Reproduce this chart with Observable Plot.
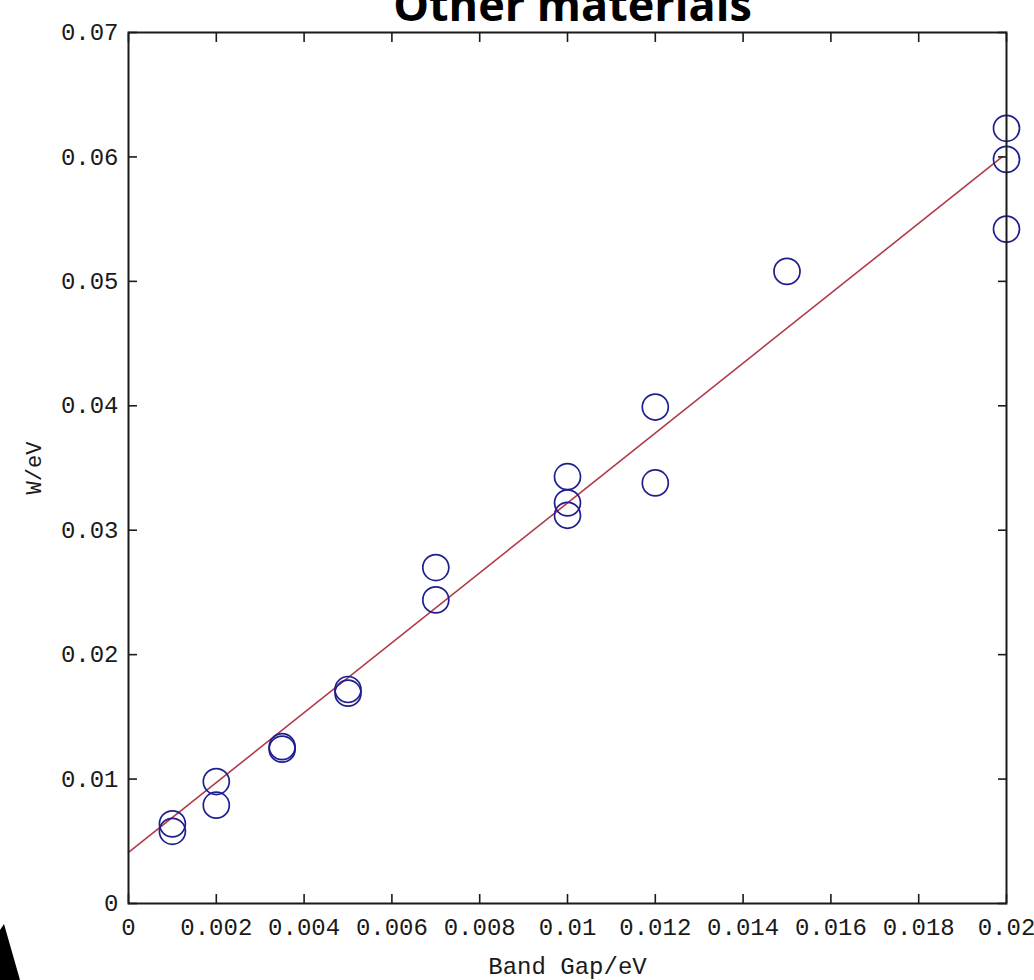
<!DOCTYPE html>
<html>
<head>
<meta charset="utf-8">
<script src="https://cdn.jsdelivr.net/npm/d3@7"></script>
<script src="https://cdn.jsdelivr.net/npm/@observablehq/plot@0.6"></script>
<style>
  html, body { margin: 0; padding: 0; background: #fff; }
  #wrap { position: relative; width: 1034px; height: 980px; overflow: hidden; }
  #corner { position: absolute; left: 0; top: 924px; width: 20px; height: 56px; background: #000;
            clip-path: polygon(0 6px, 4px 0, 20px 56px, 0 56px); }
</style>
</head>
<body>
<div id="wrap"><div id="chart"></div><div id="corner"></div></div>
<script>
// ---- data ----
const title = "Other materials";
const xTitle = "Band Gap/eV";
const yTitle = "W/eV";

const bandGap = [0.001, 0.001, 0.002, 0.002, 0.0035, 0.0035, 0.005, 0.005, 0.007, 0.007,
                 0.01, 0.01, 0.01, 0.012, 0.012, 0.015, 0.02, 0.02, 0.02];
const width_eV = [0.0064, 0.0058, 0.0098, 0.0079, 0.0124, 0.0126, 0.0172, 0.0169, 0.0270, 0.0244,
                  0.0343, 0.0322, 0.0312, 0.0399, 0.0338, 0.0508, 0.0623, 0.0598, 0.0542];

const fitX = [0, 0.0199];
const fitY = [0.0041, 0.0600];

const xTicks = [0, 0.002, 0.004, 0.006, 0.008, 0.01, 0.012, 0.014, 0.016, 0.018, 0.02];
const xTickLabels = ["0", "0.002", "0.004", "0.006", "0.008", "0.01", "0.012", "0.014", "0.016", "0.018", "0.02"];
const yTicks = [0, 0.01, 0.02, 0.03, 0.04, 0.05, 0.06, 0.07];
const yTickLabels = ["0", "0.01", "0.02", "0.03", "0.04", "0.05", "0.06", "0.07"];

// ---- build ----
const points = bandGap.map((x, i) => ({x, y: width_eV[i]}));
const fit = fitX.map((x, i) => ({x, y: fitY[i]}));
const ink = "#1a1a1a";
const tickFont = 24;

const chart = Plot.plot({
  width: 1034,
  height: 980,
  marginLeft: 128,
  marginRight: 28,
  marginTop: 32,
  marginBottom: 77,
  style: {fontFamily: "'Liberation Mono', 'DejaVu Sans Mono', monospace", fontSize: "24px", background: "#fff", color: ink, overflow: "visible"},
  x: {domain: [0, 0.02], axis: null},
  y: {domain: [0, 0.07], axis: null},
  marks: [
    Plot.line(fit, {x: "x", y: "y", stroke: "#b23a48", strokeWidth: 1.6}),
    Plot.dot(points, {x: "x", y: "y", r: 13, stroke: "#1f1f8f", strokeWidth: 1.7, fill: "none"}),
    // inward ticks on all four sides
    Plot.axisX({ticks: xTicks, anchor: "bottom", tickSize: 9, dy: -9, tickFormat: () => "", stroke: ink, strokeWidth: 1.6, label: null}),
    Plot.axisX({ticks: xTicks, anchor: "top", tickSize: 9, dy: 9, tickFormat: () => "", stroke: ink, strokeWidth: 1.6, label: null}),
    Plot.axisY({ticks: yTicks, anchor: "left", tickSize: 9, dx: 9, tickFormat: () => "", stroke: ink, strokeWidth: 1.6, label: null}),
    Plot.axisY({ticks: yTicks, anchor: "right", tickSize: 9, dx: -9, tickFormat: () => "", stroke: ink, strokeWidth: 1.6, label: null}),
    // tick labels
    Plot.axisX({ticks: xTicks, anchor: "bottom", tickSize: 0, tickPadding: 14, tickFormat: (d, i) => xTickLabels[i], fontSize: tickFont, fill: ink, label: null}),
    Plot.axisY({ticks: yTicks, anchor: "left", tickSize: 0, tickPadding: 10, tickFormat: (d, i) => yTickLabels[i], fontSize: tickFont, fill: ink, label: null}),
    Plot.frame({stroke: ink, strokeWidth: 2}),
    // axis titles
    Plot.text([xTitle], {frameAnchor: "bottom", dy: 63, text: d => d, fontSize: 24, fill: ink, lineAnchor: "middle"}),
    Plot.text([yTitle], {frameAnchor: "left", dx: -95, rotate: -90, textAnchor: "middle", text: d => d, fontSize: 22, fill: ink}),
    // chart title (cut by the top edge, as in the reference)
    Plot.text([title], {frameAnchor: "top", dx: 5, dy: -12, text: d => d, fontSize: 45, fontWeight: 700,
      fontFamily: "'Open Sans', 'Noto Sans', sans-serif", fill: "#000", lineAnchor: "bottom"})
  ]
});
document.getElementById("chart").appendChild(chart);
</script>
</body>
</html>
